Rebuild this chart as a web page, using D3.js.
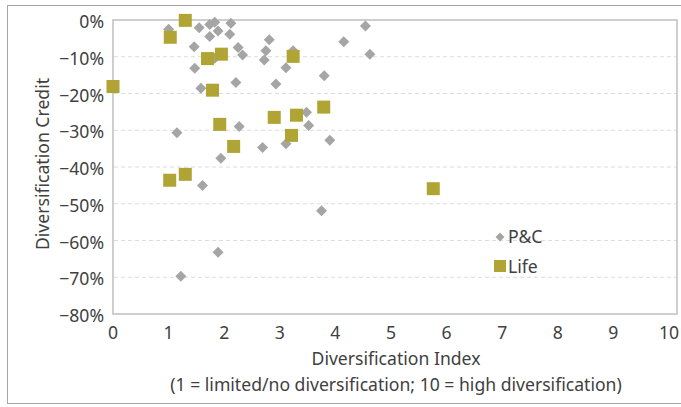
<!DOCTYPE html>
<html><head><meta charset="utf-8">
<script src="https://cdn.jsdelivr.net/npm/d3@7/dist/d3.min.js"></script>
<style>
body{margin:0;background:#fff;}
text{font-family:"Noto Sans",sans-serif;fill:#404040;}
</style></head>
<body><svg id="c" width="681" height="407"></svg>
<script>
// P&C series: diversification index (x) and credit in % (y)
const pcX = [1.0,1.55,1.74,1.83,1.74,1.89,2.12,2.10,1.46,2.25,2.33,1.83,1.47,1.58,2.21,2.81,2.75,2.72,3.24,3.11,2.93,3.80,4.15,4.54,4.62,3.48,3.52,2.69,3.11,3.90,3.75,1.15,2.27,1.94,1.61,1.89,1.22];
const pcY = [-2.5,-2.1,-1.2,-0.6,-4.5,-3.0,-0.9,-3.9,-7.3,-7.5,-9.5,-10.4,-13.1,-18.6,-17.0,-5.4,-8.4,-10.9,-8.4,-13.0,-17.4,-15.2,-5.9,-1.6,-9.3,-25.1,-28.7,-34.7,-33.7,-32.7,-51.9,-30.7,-29.0,-37.6,-45.0,-63.2,-69.7];
// Life series
const lifeX = [0,1.30,1.03,1.70,1.95,1.79,3.24,2.90,3.30,3.79,3.21,1.92,2.17,1.30,1.02,5.76];
const lifeY = [-18.1,-0.1,-4.7,-10.5,-9.3,-19.1,-9.9,-26.5,-25.9,-23.7,-31.4,-28.4,-34.4,-42.0,-43.6,-45.9];
const xTicks = [0,1,2,3,4,5,6,7,8,9,10];
const yTicks = [0,-10,-20,-30,-40,-50,-60,-70,-80];
const seriesNames = ["P&C","Life"];
const xTitle = "Diversification Index";
const xSub = "(1 = limited/no diversification; 10 = high diversification)";
const yTitle = "Diversification Credit";

const FS = 17.6;
const svg = d3.select("#c");
const x = d3.scaleLinear().domain([0,10]).range([113,669]);
const y = d3.scaleLinear().domain([0,-80]).range([20,314]);

// outer border
svg.append("rect").attr("x",7.5).attr("y",5.5).attr("width",680).attr("height",398)
  .attr("fill","none").attr("stroke","#A6A6A6").attr("stroke-width",1);

// gridlines
svg.append("g").selectAll("line").data(yTicks.filter(d=>d!==0 && d!==-80)).join("line")
  .attr("x1",114).attr("x2",677).attr("y1",d=>y(d)).attr("y2",d=>y(d))
  .attr("stroke","#DCDCDC").attr("stroke-width",1).attr("stroke-dasharray","4,3");

// plot frame
svg.append("rect").attr("x",113).attr("y",20).attr("width",564).attr("height",294)
  .attr("fill","none").attr("stroke","#BFBFBF").attr("stroke-width",1.5);

// y tick labels
svg.append("g").selectAll("text").data(yTicks).join("text")
  .attr("x",104).attr("y",d=>y(d)+1).attr("text-anchor","end").attr("dominant-baseline","central")
  .attr("font-size",FS).text(d=>(d<0?"\u2212"+(-d):d)+"%");

// x tick labels
svg.append("g").selectAll("text").data(xTicks).join("text")
  .attr("x",d=>x(d)).attr("y",339).attr("text-anchor","middle")
  .attr("font-size",FS).text(d=>d);

// titles
svg.append("text").attr("x",396).attr("y",365).attr("text-anchor","middle").attr("font-size",FS).text(xTitle);
svg.append("text").attr("x",396).attr("y",391).attr("text-anchor","middle").attr("font-size",FS).text(xSub);
svg.append("text").attr("transform","translate(49,164) rotate(-90)").attr("text-anchor","middle").attr("font-size",FS).text(yTitle);

const dpath = (s)=>`M0,${-s}L${s},0L0,${s}L${-s},0Z`;

// P&C points
svg.append("g").selectAll("path").data(d3.range(pcX.length)).join("path")
  .attr("transform",i=>`translate(${x(pcX[i])},${y(pcY[i])})`)
  .attr("d",dpath(5.5)).attr("fill","#A5A5A5");

// Life points
const sq = 13;
svg.append("g").selectAll("rect").data(d3.range(lifeX.length)).join("rect")
  .attr("x",i=>x(lifeX[i])-sq/2).attr("y",i=>y(lifeY[i])-sq/2)
  .attr("width",sq).attr("height",sq).attr("fill","#B0A434");

// legend
const lg = svg.append("g");
lg.append("path").attr("transform","translate(500,237)").attr("d",dpath(4.5)).attr("fill","#A5A5A5");
lg.append("text").attr("x",508).attr("y",243).attr("font-size",FS).text(seriesNames[0]);
lg.append("rect").attr("x",494).attr("y",260).attr("width",12).attr("height",12).attr("fill","#B0A434");
lg.append("text").attr("x",508).attr("y",272.5).attr("font-size",FS).text(seriesNames[1]);
</script></body></html>
